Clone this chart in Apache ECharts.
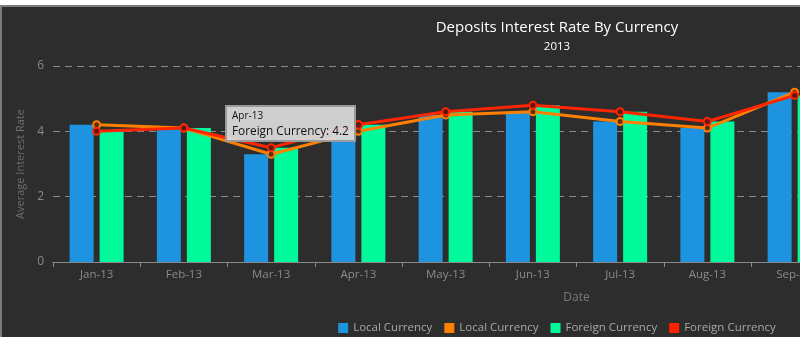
<!DOCTYPE html>
<html>
<head>
<meta charset="utf-8">
<script src="https://cdn.jsdelivr.net/npm/echarts@6/dist/echarts.min.js"></script>
<style>
  html, body { margin:0; padding:0; background:#ffffff; width:800px; height:337px; overflow:hidden; }
  #wrap { position:absolute; left:0; top:5px; width:1110px; height:330px; border-left:2px solid #7c7c7c; border-top:2px solid #7c7c7c; background:#2d2d2d; }
  #chart { width:1110px; height:330px; }
</style>
</head>
<body>
<div id="wrap"><div id="chart"></div></div>
<script>
const categories = ['Jan-13','Feb-13','Mar-13','Apr-13','May-13','Jun-13','Jul-13','Aug-13','Sep-13','Oct-13','Nov-13','Dec-13'];
const localCurrency   = [4.2, 4.1, 3.3, 4.0, 4.5, 4.6, 4.3, 4.1, 5.2, null, null, null];
const foreignCurrency = [4.0, 4.1, 3.5, 4.2, 4.6, 4.8, 4.6, 4.3, 5.1, null, null, null];
const yTicks = [0, 2, 4, 6];

const FONT = 'Open Sans';
const BLUE = '#1e93df', ORANGE = '#ff8000', GREEN = '#00f99a', RED = '#ff2200';
const chart = echarts.init(document.getElementById('chart'), null, {renderer:'canvas'});
chart.setOption({
  animation: false,
  backgroundColor: '#2d2d2d',
  textStyle: { fontFamily: FONT },
  title: {
    text: 'Deposits Interest Rate By Currency',
    subtext: '2013',
    left: 'center',
    top: 8,
    itemGap: 6,
    textStyle: { color:'#ffffff', fontSize:15, fontWeight:'normal', fontFamily: FONT },
    subtextStyle: { color:'#ffffff', fontSize:11.5, fontFamily: FONT }
  },
  legend: {
    top: 310,
    left: 'center',
    itemWidth: 10, itemHeight: 10, itemGap: 12,
    icon: 'rect',
    textStyle: { color:'#a8a8a8', fontSize:11.5, fontFamily: FONT },
    data: [
      {name:'Local Currency', icon:'rect', itemStyle:{color:BLUE, borderWidth:0}},
      {name:'Local Currency ', icon:'rect', itemStyle:{color:ORANGE, borderWidth:0}},
      {name:'Foreign Currency', icon:'rect', itemStyle:{color:GREEN, borderWidth:0}},
      {name:'Foreign Currency ', icon:'rect', itemStyle:{color:RED, borderWidth:0}}
    ],
    formatter: n => n.trim()
  },
  tooltip: {
    trigger: 'item',
    alwaysShowContent: true,
    triggerOn: 'none',
    transitionDuration: 0,
    position: [223, 98],
    backgroundColor: 'rgba(218,218,218,0.94)',
    borderColor: '#9a9a9a',
    borderWidth: 2,
    padding: [2, 5, 2, 5],
    extraCssText: 'border-radius:0;box-shadow:none;',
    formatter: p => '<div style="font-family:Open Sans;color:#111;line-height:13px;font-size:10px">' + p.name + '</div>' +
                    '<div style="font-family:Open Sans;color:#111;line-height:16px;font-size:11.8px">' + p.seriesName.trim() + ': ' + p.value + '</div>'
  },
  grid: { left: 51, right: 12, top: 59, bottom: 75 },
  xAxis: {
    type: 'category',
    data: categories,
    name: 'Date',
    nameLocation: 'middle',
    nameGap: 30,
    nameTextStyle: { color:'#7a7a7a', fontSize:12, fontFamily: FONT },
    axisLine: { lineStyle: { color:'#8a8a8a', width:1 } },
    axisTick: { show:true, length:5, lineStyle:{ color:'#8a8a8a' } },
    axisLabel: { color:'#8a8a8a', fontSize:11.5, margin:7, fontFamily: FONT }
  },
  yAxis: {
    type: 'value',
    min: yTicks[0], max: yTicks[yTicks.length-1], interval: 2,
    name: 'Average Interest Rate',
    nameLocation: 'middle',
    nameGap: 25,
    nameTextStyle: { color:'#6e6e6e', fontSize:11, fontFamily: FONT },
    axisLine: { show:false },
    axisTick: { show:false },
    axisLabel: { color:'#8a8a8a', fontSize:12, margin:9, fontFamily: FONT },
    splitLine: { lineStyle: { color:'#8a8a8a', type:[7,5], width:1 } }
  },
  series: [
    { name:'Local Currency', type:'bar', data: localCurrency, barWidth:24, barGap:'25%',
      itemStyle:{ color:BLUE }, z:2 },
    { name:'Foreign Currency', type:'bar', data: foreignCurrency, barWidth:24, barGap:'25%',
      itemStyle:{ color:GREEN }, z:2 },
    { name:'Local Currency ', type:'line', data: localCurrency,
      symbol:'circle', symbolSize:7,
      lineStyle:{ color:ORANGE, width:3 },
      itemStyle:{ color:'#5a3210', borderColor:ORANGE, borderWidth:2 }, z:3 },
    { name:'Foreign Currency ', type:'line', data: foreignCurrency,
      symbol:'circle', symbolSize:7,
      lineStyle:{ color:RED, width:3 },
      itemStyle:{ color:'#5a1a10', borderColor:RED, borderWidth:2 }, z:4 }
  ]
});
chart.dispatchAction({ type:'highlight', seriesIndex:3, dataIndex:3 });
chart.dispatchAction({ type:'showTip', seriesIndex:3, dataIndex:3 });
</script>
</body>
</html>
